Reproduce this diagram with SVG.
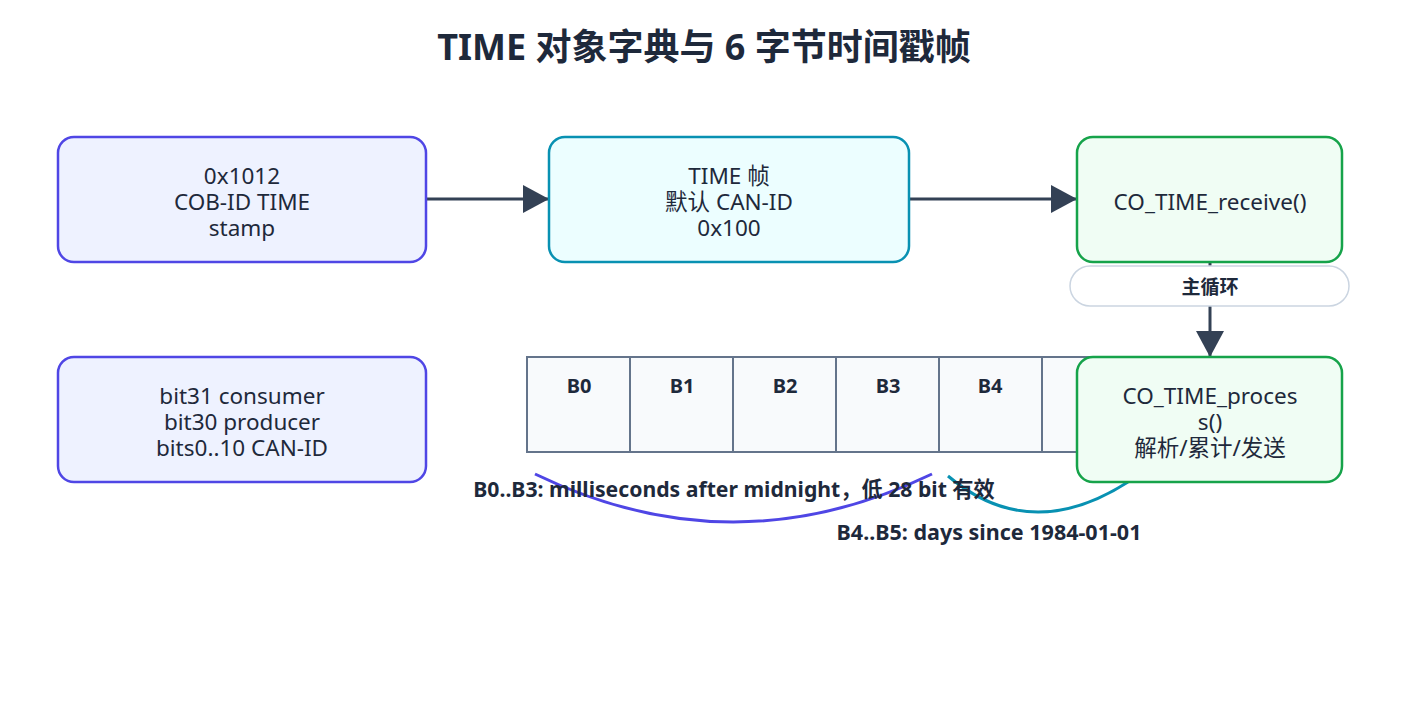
<svg xmlns="http://www.w3.org/2000/svg" width="1407" height="725" viewBox="0 0 1407 725">
<defs>
<style>
.t{font-family:"Noto Sans","Noto Sans CJK SC",sans-serif;fill:#1e293b;text-anchor:middle}
.n{font-size:22.5px}
.b{font-weight:bold}
.ind{fill:#eef2ff;stroke:#4f46e5;stroke-width:2.5}
.cy{fill:#ecfeff;stroke:#0891b2;stroke-width:2.5}
.gr{fill:#f0fdf4;stroke:#16a34a;stroke-width:2.5}
.cell{fill:#f8fafc;stroke:#64748b;stroke-width:2}
.ed{stroke:#334155;stroke-width:3;fill:none}
</style>
<marker id="ah" markerUnits="userSpaceOnUse" markerWidth="26" markerHeight="28" viewBox="0 0 26 28" refX="26" refY="14" orient="auto">
<path d="M0,0 L26,14 L0,28 z" fill="#334155"/>
</marker>
</defs>
<rect width="1407" height="725" fill="#ffffff"/>
<text class="t b" x="704" y="60" font-size="36" fill="#0f172a">TIME 对象字典与 6 字节时间戳帧</text>

<g id="frame">
<rect class="cell" x="527" y="357" width="103" height="95"/>
<rect class="cell" x="630" y="357" width="103" height="95"/>
<rect class="cell" x="733" y="357" width="103" height="95"/>
<rect class="cell" x="836" y="357" width="103" height="95"/>
<rect class="cell" x="939" y="357" width="103" height="95"/>
<rect class="cell" x="1042" y="357" width="103" height="95"/>
<text class="t b" font-size="20" x="579" y="393">B0</text>
<text class="t b" font-size="20" x="682" y="393">B1</text>
<text class="t b" font-size="20" x="785" y="393">B2</text>
<text class="t b" font-size="20" x="888" y="393">B3</text>
<text class="t b" font-size="20" x="990" y="393">B4</text>
</g>

<g id="connectors">
<line class="ed" x1="426" y1="199" x2="549" y2="199" marker-end="url(#ah)"/>
<line class="ed" x1="909" y1="199" x2="1077" y2="199" marker-end="url(#ah)"/>
<line class="ed" x1="1210" y1="262" x2="1210" y2="357" marker-end="url(#ah)"/>
<path d="M535,474 Q733,570 932,474" fill="none" stroke="#4f46e5" stroke-width="3"/>
<path d="M948,476 Q1030,545 1128,482" fill="none" stroke="#0891b2" stroke-width="3"/>
<g id="loop-label">
<rect x="1070" y="266" width="279" height="40" rx="20" fill="#ffffff" stroke="#cbd5e1" stroke-width="1.5"/>
<text class="t b" font-size="19" x="1210" y="294">主循环</text>
</g>
</g>

<g id="n1">
<rect class="ind" x="58" y="137" width="368" height="125" rx="16"/>
<text class="t n" x="242" y="184">0x1012</text>
<text class="t n" x="242" y="210">COB-ID TIME</text>
<text class="t n" x="242" y="236">stamp</text>
</g>
<g id="n2">
<rect class="cy" x="549" y="137" width="360" height="125" rx="16"/>
<text class="t n" x="729" y="184">TIME 帧</text>
<text class="t n" x="729" y="210">默认 CAN-ID</text>
<text class="t n" x="729" y="236">0x100</text>
</g>
<g id="n3">
<rect class="gr" x="1077" y="137" width="265" height="125" rx="16"/>
<text class="t n" x="1210" y="210">CO_TIME_receive()</text>
</g>
<g id="n4">
<rect class="ind" x="58" y="357" width="368" height="125" rx="16"/>
<text class="t n" x="242" y="404">bit31 consumer</text>
<text class="t n" x="242" y="430">bit30 producer</text>
<text class="t n" x="242" y="456">bits0..10 CAN-ID</text>
</g>
<g id="n5">
<rect class="gr" x="1077" y="357" width="265" height="125" rx="16"/>
<text class="t n" x="1210" y="404">CO_TIME_proces</text>
<text class="t n" x="1210" y="430">s()</text>
<text class="t n" x="1210" y="456">解析/累计/发送</text>
</g>

<g id="notes">
<text class="t b" font-size="21.2" x="734" y="497">B0..B3: milliseconds after midnight，低 28 bit 有效</text>
<text class="t b" font-size="21.5" x="989" y="540">B4..B5: days since 1984-01-01</text>
</g>
</svg>
